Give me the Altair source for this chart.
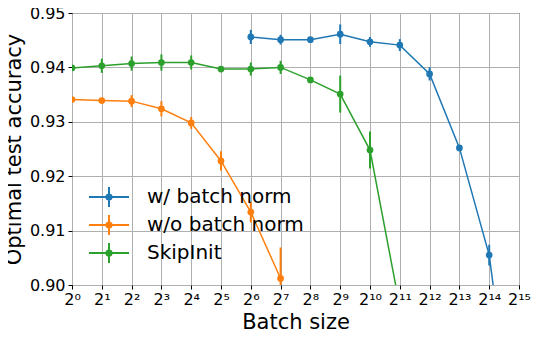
import altair as alt
import pandas as pd

series_names = ["w/ batch norm", "w/o batch norm", "SkipInit"]
series_colors = ["#1f77b4", "#ff7f0e", "#2ca02c"]

bn_exp = [6, 7, 8, 9, 10, 11, 12, 13, 14, 15]
bn_acc = [0.9456, 0.9451, 0.9451, 0.9461, 0.9447, 0.9441, 0.9388, 0.9252, 0.9055, 0.8640]
bn_err = [0.0013, 0.0009, 0.0005, 0.0018, 0.0009, 0.0011, 0.0012, 0.0003, 0.0019, 0.0010]

nobn_exp = [0, 1, 2, 3, 4, 5, 6, 7]
nobn_acc = [0.9341, 0.9339, 0.9338, 0.9324, 0.9298, 0.9228, 0.9134, 0.9012]
nobn_err = [0.0003, 0.0002, 0.0011, 0.0014, 0.0011, 0.0018, 0.0019, 0.0057]

skip_exp = [0, 1, 2, 3, 4, 5, 6, 7, 8, 9, 10, 11]
skip_acc = [0.9399, 0.9403, 0.9407, 0.9409, 0.9409, 0.9397, 0.9397, 0.9400, 0.9377, 0.9351, 0.9248, 0.8960]
skip_err = [0.0003, 0.0013, 0.0013, 0.0015, 0.0013, 0.0003, 0.0012, 0.0012, 0.0003, 0.0034, 0.0034, 0.0000]

x_ticks = [2 ** e for e in range(16)]
y_ticks = [0.90, 0.91, 0.92, 0.93, 0.94, 0.95]
sup = "⁰¹²³⁴⁵⁶⁷⁸⁹"
x_labels = ["2" + "".join(sup[int(c)] for c in str(e)) for e in range(16)]

rows = []
for name, exps, accs, errs in [
    (series_names[0], bn_exp, bn_acc, bn_err),
    (series_names[1], nobn_exp, nobn_acc, nobn_err),
    (series_names[2], skip_exp, skip_acc, skip_err),
]:
    for e, a, s in zip(exps, accs, errs):
        rows.append({"series": name, "batch": 2 ** e, "acc": a, "lo": a - s, "hi": a + s})
df = pd.DataFrame(rows)

label_expr = "[" + ",".join("'" + l + "'" for l in x_labels) + "][round(log(datum.value)/LN2)]"

x_enc = alt.X("batch:Q",
              scale=alt.Scale(type="log", base=2, domain=[1, 2 ** 15], nice=False),
              axis=alt.Axis(values=x_ticks, labelExpr=label_expr, title="Batch size",
                            titlePadding=4, labelPadding=2, labelFontSize=16,
                            labelOverlap=False, labelBound=False, labelFlush=False))
y_scale = alt.Scale(domain=[0.90, 0.95], nice=False, zero=False)
y_enc = alt.Y("acc:Q", scale=y_scale,
              axis=alt.Axis(values=y_ticks, format=".2f", title="Optimal test accuracy",
                            titlePadding=5, labelPadding=3, labelFontSize=16,
                            labelOverlap=False))
color_scale = alt.Scale(domain=series_names, range=series_colors)

# legend glyph: line + error bar + small disk (concentric stroked circles)
disk = "".join(
    "M-{r},0A{r},{r},0,1,1,{r},0A{r},{r},0,1,1,-{r},0".format(r=r)
    for r in (0.08, 0.18, 0.26)
)
legend_path = "M-2,0H2M0,-1V1" + disk

base = alt.Chart(df)

lines = base.mark_line(strokeWidth=1.5, clip=True).encode(
    x=x_enc, y=y_enc,
    color=alt.Color("series:N", scale=color_scale,
                    legend=alt.Legend(
                        title=None, orient="none", legendX=26, legendY=173,
                        symbolType=legend_path, symbolSize=400,
                        symbolStrokeWidth=2, labelFontSize=20,
                        labelFont="DejaVu Sans", labelColor="black",
                        labelOffset=27, rowPadding=0, labelLimit=400)),
    order="batch:Q",
)
errs = base.mark_rule(strokeWidth=2, clip=True).encode(
    x="batch:Q",
    y=alt.Y("lo:Q", scale=y_scale),
    y2="hi:Q",
    color=alt.Color("series:N", scale=color_scale, legend=None),
)
points = base.mark_point(filled=True, size=45, opacity=1, clip=True).encode(
    x="batch:Q",
    y=alt.Y("acc:Q", scale=y_scale),
    color=alt.Color("series:N", scale=color_scale, legend=None),
)

chart = alt.layer(lines, errs, points).properties(
    width=447, height=272,
    padding={"left": 64, "top": 5, "right": 12, "bottom": 47},
    autosize=alt.AutoSizeParams(type="none"),
).configure_view(
    stroke="black", strokeWidth=1
).configure_axis(
    labelFont="DejaVu Sans", titleFont="DejaVu Sans",
    titleFontSize=21, titleFontWeight="normal",
    labelColor="black", titleColor="black",
    gridColor="#b0b0b0", gridWidth=1,
    tickColor="black", tickSize=4, tickWidth=1,
    domain=False,
)

chart.save("out.html", embed_options={"renderer": "svg", "actions": False})
